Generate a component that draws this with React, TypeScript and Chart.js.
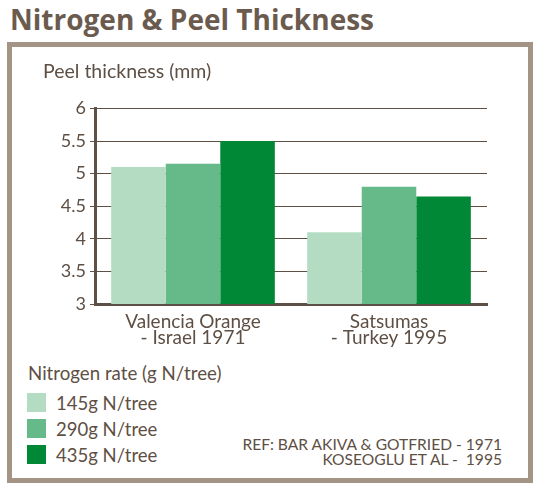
import { useEffect, useRef } from 'react';
import { Chart, registerables } from 'chart.js';

Chart.register(...registerables);

const categories = [['Valencia Orange', '- Israel 1971'], ['Satsumas', '- Turkey 1995']];
const seriesNames = ['145g N/tree', '290g N/tree', '435g N/tree'];
const seriesColors = ['#b3dcc3', '#66b988', '#008837'];
const rate145 = [5.1, 4.1];
const rate290 = [5.15, 4.8];
const rate435 = [5.5, 4.65];
const yTicks = [3, 3.5, 4, 4.5, 5, 5.5, 6];
const refLines = ['REF: BAR AKIVA & GOTFRIED - 1971', 'KOSEOGLU ET AL -  1995'];

const FONT = 'Lato, "Open Sans", sans-serif';
const TEXT = '#5e4f44';
const LINE = '#5e5045';

export default function App() {
  const chartRef = useRef<HTMLCanvasElement>(null);
  const chartInstance = useRef<Chart | null>(null);

  useEffect(() => {
    if (!chartRef.current) return;
    const ctx = chartRef.current.getContext('2d');
    if (!ctx) return;

    if (chartInstance.current) chartInstance.current.destroy();

    const values = [rate145, rate290, rate435];

    chartInstance.current = new Chart(ctx, {
      type: 'bar',
      data: {
        labels: categories,
        datasets: seriesNames.map((name, i) => ({
          label: name,
          data: values[i],
          backgroundColor: seriesColors[i],
          borderWidth: 0,
          categoryPercentage: 0.835,
          barPercentage: 1,
        })),
      },
      options: {
        animation: false,
        responsive: false,
        maintainAspectRatio: false,
        layout: { padding: { left: 43, right: 49, top: 0, bottom: 0 } },
        plugins: {
          legend: { display: false },
          tooltip: { enabled: false },
          title: {
            display: true,
            text: 'Peel thickness (mm)',
            align: 'start',
            color: TEXT,
            font: { family: FONT, size: 19.5, weight: 'normal', lineHeight: 1.1 },
            padding: { top: 13, bottom: 26 },
          },
        },
        scales: {
          x: {
            grid: { display: false, drawTicks: false },
            border: { display: true, width: 3, color: LINE },
            ticks: {
              color: TEXT,
              padding: 10,
              font: { family: FONT, size: 19, lineHeight: 0.85 },
              maxRotation: 0,
            },
            afterFit: (scale: any) => {
              scale.height = 44;
            },
          },
          y: {
            min: 3,
            max: 6,
            afterBuildTicks: (scale: any) => {
              scale.ticks = yTicks.map((v) => ({ value: v }));
            },
            grid: { color: LINE, lineWidth: 1, tickLength: 5, drawTicks: true },
            border: { display: true, width: 3, color: LINE },
            ticks: {
              color: TEXT,
              padding: 4,
              font: { family: FONT, size: 18 },
              callback: (v: any) => String(v),
            },
            afterFit: (scale: any) => {
              scale.width = 52;
            },
          },
        },
      },
    });

    return () => {
      if (chartInstance.current) {
        chartInstance.current.destroy();
        chartInstance.current = null;
      }
    };
  }, []);

  return (
    <div
      style={{
        position: 'absolute',
        left: 0,
        top: 0,
        width: 536,
        height: 487,
        background: '#ffffff',
        fontFamily: FONT,
        color: TEXT,
      }}
    >
      <div
        style={{
          position: 'absolute',
          left: 10,
          top: 0,
          fontFamily: '"Open Sans", sans-serif',
          fontSize: 28,
          lineHeight: '38px',
          fontWeight: 'bold',
          color: '#6b5b4e',
          whiteSpace: 'nowrap',
        }}
      >
        Nitrogen &amp; Peel Thickness
      </div>
      <div
        style={{
          position: 'absolute',
          left: 7,
          top: 42,
          width: 526,
          height: 441,
          boxSizing: 'border-box',
          border: '5px solid #a39485',
        }}
      />
      <canvas
        ref={chartRef}
        width={536}
        height={300}
        style={{ position: 'absolute', left: 0, top: 48, width: 536, height: 300 }}
      />
      <div style={{ position: 'absolute', left: 28, top: 362, fontSize: 18.7, whiteSpace: 'nowrap' }}>
        Nitrogen rate (g N/tree)
      </div>
      {seriesNames.map((name, i) => (
        <div
          key={name}
          style={{
            position: 'absolute',
            left: 27,
            top: 393 + i * 26,
            height: 19,
            display: 'flex',
            alignItems: 'center',
            fontSize: 18.5,
            whiteSpace: 'nowrap',
          }}
        >
          <span style={{ display: 'inline-block', width: 19, height: 19, background: seriesColors[i], marginRight: 10 }} />
          {name}
        </div>
      ))}
      <div
        style={{
          position: 'absolute',
          right: 34,
          top: 437,
          fontSize: 15.6,
          lineHeight: '15px',
          textAlign: 'right',
          whiteSpace: 'pre',
        }}
      >
        {refLines.map((l) => (
          <div key={l}>{l}</div>
        ))}
      </div>
    </div>
  );
}
